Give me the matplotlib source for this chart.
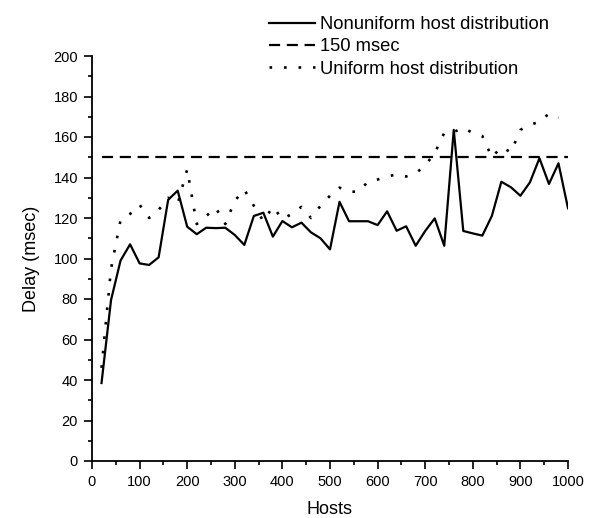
#!/usr/bin/env python3
"""Delay vs number of hosts, nonuniform vs uniform host distribution."""
import matplotlib
matplotlib.use("Agg")
import matplotlib.pyplot as plt
from matplotlib.ticker import MultipleLocator

plt.rcParams["font.family"] = ["Liberation Sans", "DejaVu Sans"]

hosts = list(range(20, 1001, 20))

nonuniform = [
    38.5, 79.5, 99, 107, 97.6, 96.8, 100.6, 129, 133.5, 115.7,
    112, 115.2, 115, 115.2, 111.6, 106.7, 121, 122.6, 110.8, 118.5,
    115.4, 117.7, 112.9, 110, 104.5, 128, 118.4, 118.4, 118.4, 116.5,
    123.3, 113.7, 115.9, 106.3, 113.6, 119.8, 106.3, 163.5, 113.6, 112.4,
    111.3, 121, 137.9, 135.2, 131, 137.6, 149.5, 136.8, 147, 124.8,
]

hosts_uniform = list(range(20, 981, 20))
uniform = [
    46, 95, 119, 122, 126.5, 120, 124, 130, 127, 144,
    117, 121, 125, 117, 128.5, 134, 126, 118.5, 125.5, 119.5,
    122, 125.5, 120, 126, 131, 135, 133, 133, 138, 139,
    140.5, 141.5, 140.5, 142, 146, 152, 162, 162.5, 164.5, 162,
    160.5, 150, 155, 152.5, 163.5, 166, 167.5, 171.5, 169.5,
]

threshold = [150] * len(hosts)


def main():
    fig = plt.figure(figsize=(5.9, 5.18), dpi=100)
    ax = fig.add_axes([92 / 590, 1 - 461 / 518, 476 / 590, 405 / 518])

    ax.plot(hosts, nonuniform, color="black", lw=1.6, ls="-",
            label="Nonuniform host distribution")
    ax.plot(hosts, threshold, color="black", lw=1.6, ls=(0, (5, 3)),
            label="150 msec")
    ax.plot(hosts_uniform, uniform, color="black", lw=1.9, ls=(0, (1, 4.5)),
            label="Uniform host distribution")

    ax.set_xlim(0, 1000)
    ax.set_ylim(0, 200)
    ax.xaxis.set_major_locator(MultipleLocator(100))
    ax.xaxis.set_minor_locator(MultipleLocator(50))
    ax.yaxis.set_major_locator(MultipleLocator(20))
    ax.yaxis.set_minor_locator(MultipleLocator(10))
    ax.tick_params(which="major", direction="out", length=5.5, width=1.2,
                   labelsize=10.5, colors="black", pad=4.5)
    ax.tick_params(which="minor", direction="out", length=3, width=1.2)
    for side in ("top", "right"):
        ax.spines[side].set_visible(False)
    for side in ("left", "bottom"):
        ax.spines[side].set_linewidth(1.3)

    ax.set_xlabel("Hosts", fontsize=13, labelpad=9)
    ax.set_ylabel("Delay (msec)", fontsize=13, labelpad=10)

    fig.legend(loc="upper left", bbox_to_anchor=(262 / 590, 1 - 9 / 518),
               frameon=False, fontsize=13.2, handlelength=2.5,
               handletextpad=0.25, labelspacing=0.28, borderaxespad=0)

    fig.savefig("out.png", dpi=100)


if __name__ == "__main__":
    main()
